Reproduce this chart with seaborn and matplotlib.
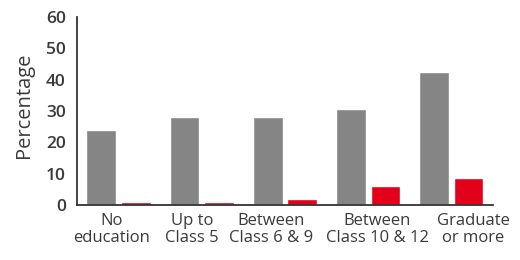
import numpy as np
import pandas as pd
import matplotlib
matplotlib.use('Agg')
import matplotlib.pyplot as plt
import matplotlib.transforms as mtransforms
import seaborn as sns
from matplotlib.ticker import FixedLocator

categories = ['No\neducation', 'Up to\nClass 5', 'Between\nClass 6 & 9', 'Between\nClass 10 & 12', 'Graduate\nor more']
gray_values = [24, 28, 28, 30.5, 42.5]
red_values = [1, 1, 2, 6, 8.5]
series = ['A', 'B']
# label shifts (pixels) so the crowded labels do not collide, as in the original
label_shift = [-7, -10, -14, 9, 22]

df = pd.DataFrame({
    'cat': categories * 2,
    'val': gray_values + red_values,
    'series': [series[0]] * 5 + [series[1]] * 5,
})

sns.set_style('white')
plt.rcParams['font.family'] = ['Open Sans', 'DejaVu Sans']
txt = '#3a3a3a'

fig = plt.figure(figsize=(5.2, 2.6), dpi=100)
ax = fig.add_axes([0.148, 0.212, 0.8, 0.723])

sns.barplot(data=df, x='cat', y='val', hue='series', order=categories,
            palette=['#858585', '#e2001a'], saturation=1, width=0.83, gap=0.14,
            legend=False, ax=ax)

ax.set_ylim(0, 60)
ax.set_xlim(-0.5, 4.5)
ax.set_yticks(range(0, 61, 10))
ax.set_xlabel('')
ax.set_ylabel('Percentage', fontsize=14.5, color=txt)
ax.yaxis.set_label_coords(-0.104, 0.53)
sns.despine(ax=ax)
for s in ['left', 'bottom']:
    ax.spines[s].set_color('#333333')
    ax.spines[s].set_linewidth(1.3)

ax.tick_params(axis='y', direction='in', length=2, labelsize=12.5, labelcolor=txt, pad=8)
ax.tick_params(axis='x', which='major', length=0, labelsize=12, labelcolor=txt, pad=6)
ax.xaxis.set_minor_locator(FixedLocator(np.arange(0.5, 5, 1)))
ax.tick_params(axis='x', which='minor', direction='in', length=2, width=1.3, color='#333333')
for lbl in ax.get_yticklabels():
    lbl.set_fontweight('semibold')
for lbl, dx in zip(ax.get_xticklabels(), label_shift):
    lbl.set_linespacing(1.1)
    lbl.set_transform(lbl.get_transform() + mtransforms.ScaledTranslation(dx / 100, 0, fig.dpi_scale_trans))

fig.savefig('out.png', dpi=100)
